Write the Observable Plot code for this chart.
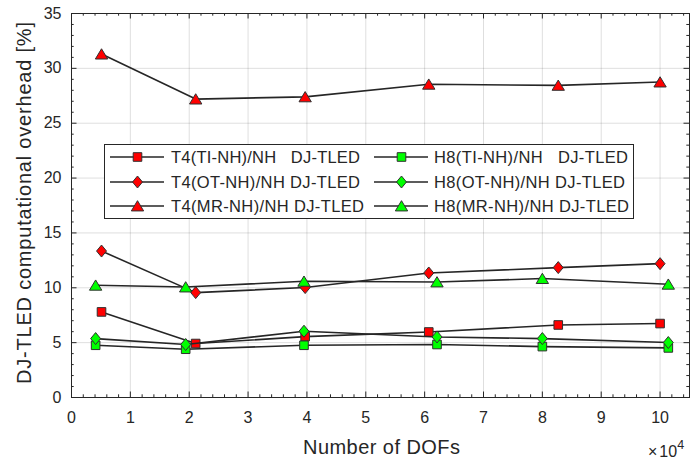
<!DOCTYPE html>
<html>
<head>
<meta charset="utf-8">
<script src="https://cdn.jsdelivr.net/npm/d3@7"></script>
<script src="https://cdn.jsdelivr.net/npm/@observablehq/plot@0.6"></script>
<style>
  html, body { margin: 0; padding: 0; background: #fff; }
  #chart { width: 691px; height: 464px; }
</style>
</head>
<body>
<div id="chart"></div>
<script>
// Number of DOFs (x 10^4) for each element type
const dofsT4 = [0.51, 2.11, 3.97, 6.07, 8.27, 10.0];
const dofsH8 = [0.41, 1.94, 3.95, 6.21, 8.0, 10.14];

// DJ-TLED computational overhead [%]
const t4TI = [7.8, 4.92, 5.55, 5.97, 6.61, 6.74];
const t4OT = [13.35, 9.56, 10.02, 11.35, 11.84, 12.2];
const t4MR = [31.3, 27.2, 27.4, 28.55, 28.45, 28.75];
const h8TI = [4.76, 4.40, 4.76, 4.83, 4.64, 4.52];
const h8OT = [5.37, 4.83, 6.04, 5.52, 5.37, 5.01];
const h8MR = [10.23, 10.07, 10.59, 10.53, 10.84, 10.32];

const seriesLabels = [
  "T4(TI-NH)/NH   DJ-TLED",
  "T4(OT-NH)/NH DJ-TLED",
  "T4(MR-NH)/NH DJ-TLED",
  "H8(TI-NH)/NH   DJ-TLED",
  "H8(OT-NH)/NH DJ-TLED",
  "H8(MR-NH)/NH DJ-TLED"
];

const xMajor = d3.range(0, 11, 1);
const xMinor = d3.range(0, 10.5, 0.2).filter(v => Math.abs(v - Math.round(v)) > 1e-6);
const yMajor = d3.range(0, 36, 5);
const yMinor = d3.range(0, 36, 1).filter(v => v % 5 !== 0);

const xTitle = "Number of DOFs";
const yTitle = "DJ-TLED computational overhead [%]";

// marker shapes (centred on their bounding box)
const squareSym = {draw(ctx, size) { const h = Math.sqrt(size / Math.PI); ctx.rect(-h, -h, 2 * h, 2 * h); }};
const diamondSym = {draw(ctx, size) { const h = Math.sqrt(size / Math.PI), w = h * 0.83;
  ctx.moveTo(0, -h); ctx.lineTo(w, 0); ctx.lineTo(0, h); ctx.lineTo(-w, 0); ctx.closePath(); }};
const triangleSym = {draw(ctx, size) { const h = Math.sqrt(size / Math.PI);
  ctx.moveTo(0, -h * 0.95); ctx.lineTo(h * 1.1, h * 0.88); ctx.lineTo(-h * 1.1, h * 0.88); ctx.closePath(); }};

const RED = "#ff0000", GREEN = "#00ff00";
const series = [
  {x: dofsT4, y: t4TI, sym: squareSym, r: 4.3, fill: RED},
  {x: dofsT4, y: t4OT, sym: diamondSym, r: 6, fill: RED},
  {x: dofsT4, y: t4MR, sym: triangleSym, r: 5.6, fill: RED},
  {x: dofsH8, y: h8TI, sym: squareSym, r: 4.3, fill: GREEN},
  {x: dofsH8, y: h8OT, sym: diamondSym, r: 6, fill: GREEN},
  {x: dofsH8, y: h8MR, sym: triangleSym, r: 5.6, fill: GREEN}
];

const W = 691, H = 464;
const mt = 13, mr = 2, mb = 67, ml = 71;
const innerW = W - ml - mr, innerH = H - mt - mb;
const AX = "#262626", LINE = "#262626", EDGE = "#303030";
const MAJ = 5.5, MIN = 2.7;

const seriesMarks = series.flatMap(s => {
  const pts = s.x.map((x, i) => ({x, y: s.y[i]}));
  return [
    Plot.line(pts, {x: "x", y: "y", stroke: LINE, strokeWidth: 1.6}),
    Plot.dot(pts, {x: "x", y: "y", symbol: s.sym, r: s.r, fill: s.fill, stroke: EDGE, strokeWidth: 1})
  ];
});

const chart = Plot.plot({
  width: W, height: H,
  marginTop: mt, marginRight: mr, marginBottom: mb, marginLeft: ml,
  x: {domain: [0, 10.5]},
  y: {domain: [0, 35]},
  style: {fontFamily: "'Liberation Sans', Arial, sans-serif", color: AX, background: "white", overflow: "visible"},
  marks: [
    Plot.gridX({ticks: xMajor, stroke: "#000", strokeOpacity: 0.13, strokeWidth: 1}),
    Plot.gridY({ticks: yMajor, stroke: "#000", strokeOpacity: 0.13, strokeWidth: 1}),
    // inward ticks on all four sides
    Plot.tickX(xMajor, {x: d => d, insetTop: innerH - MAJ, stroke: AX}),
    Plot.tickX(xMajor, {x: d => d, insetBottom: innerH - MAJ, stroke: AX}),
    Plot.tickX(xMinor, {x: d => d, insetTop: innerH - MIN, stroke: AX}),
    Plot.tickX(xMinor, {x: d => d, insetBottom: innerH - MIN, stroke: AX}),
    Plot.tickY(yMajor, {y: d => d, insetRight: innerW - MAJ, stroke: AX}),
    Plot.tickY(yMajor, {y: d => d, insetLeft: innerW - MAJ, stroke: AX}),
    Plot.tickY(yMinor, {y: d => d, insetRight: innerW - MIN, stroke: AX}),
    Plot.tickY(yMinor, {y: d => d, insetLeft: innerW - MIN, stroke: AX}),
    Plot.axisX({ticks: xMajor, tickSize: 0, tickPadding: 14, fontSize: 16, label: null, tickFormat: d => String(d)}),
    Plot.axisY({ticks: yMajor, tickSize: 0, tickPadding: 10, fontSize: 16, label: null, tickFormat: d => String(d)}),
    ...seriesMarks,
    Plot.frame({stroke: AX, strokeWidth: 1})
  ]
});

document.getElementById("chart").appendChild(chart);

// axis titles and the exponent note
const svg = d3.select(chart);
const font = "'Liberation Sans', Arial, sans-serif";
svg.append("text")
  .attr("x", 381.5).attr("y", 454)
  .attr("text-anchor", "middle")
  .attr("font-family", font).attr("font-size", 20).attr("fill", AX)
  .attr("textLength", 157).attr("lengthAdjust", "spacing")
  .text(xTitle);
svg.append("text")
  .attr("transform", "translate(31,203) rotate(-90)")
  .attr("text-anchor", "middle")
  .attr("font-family", font).attr("font-size", 20).attr("fill", AX)
  .attr("textLength", 362).attr("lengthAdjust", "spacing")
  .text(yTitle);
const expo = svg.append("text")
  .attr("x", 648).attr("y", 457)
  .attr("text-anchor", "start")
  .attr("font-family", font).attr("font-size", 16).attr("fill", AX);
expo.append("tspan").text("\u00d7");
expo.append("tspan").attr("dx", 2).text("10");
expo.append("tspan").attr("dy", -8).attr("font-size", 12.5).text("4");

// legend box inside the axes
const lg = svg.append("g").attr("class", "legend");
const box = {x: 104.5, y: 144.5, w: 529, h: 74};
lg.append("rect").attr("x", box.x).attr("y", box.y).attr("width", box.w).attr("height", box.h)
  .attr("fill", "white").attr("stroke", AX).attr("stroke-width", 1);
const rowsY = [157, 182, 206];
const cols = [{l0: 110, l1: 164, mx: 137.5, tx: 171}, {l0: 374, l1: 428, mx: 401.5, tx: 434}];
const txtLen = [189, 189, 193, 194, 191, 195];
series.forEach((s, i) => {
  const c = cols[Math.floor(i / 3)], y = rowsY[i % 3];
  lg.append("line").attr("x1", c.l0).attr("x2", c.l1).attr("y1", y).attr("y2", y)
    .attr("stroke", LINE).attr("stroke-width", 1.6);
  lg.append("path")
    .attr("d", d3.symbol(s.sym, Math.PI * s.r * s.r)())
    .attr("transform", `translate(${c.mx},${y})`)
    .attr("fill", s.fill).attr("stroke", EDGE).attr("stroke-width", 1);
  lg.append("text")
    .attr("x", c.tx).attr("y", y).attr("dy", "0.36em")
    .attr("text-anchor", "start")
    .attr("font-family", font).attr("font-size", 16.5).attr("fill", AX)
    .attr("xml:space", "preserve").style("white-space", "pre")
    .attr("textLength", txtLen[i]).attr("lengthAdjust", "spacing")
    .text(seriesLabels[i]);
});
</script>
</body>
</html>
